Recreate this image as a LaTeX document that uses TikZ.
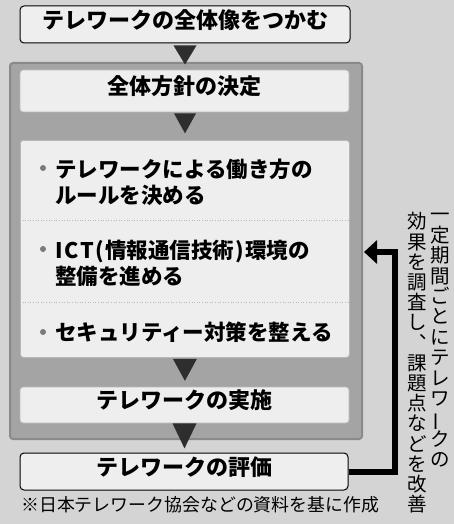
\documentclass[tikz,border=0pt]{standalone}
\usepackage{fontspec}
\usepackage{graphicx}
\newfontfamily\jp{Noto Sans CJK JP}
\usetikzlibrary{arrows.meta,calc}
\definecolor{bgc}{HTML}{D4D4D4}
\definecolor{boxc}{HTML}{EEEEEE}
\definecolor{panelc}{HTML}{A4A4A4}
\definecolor{paneledge}{HTML}{8A8A8A}
\definecolor{boxedge}{HTML}{B8B8B8}
\definecolor{tric}{HTML}{2E2E2E}
\definecolor{bulc}{HTML}{7A7A7A}
\begin{document}
\begin{tikzpicture}[x=1pt,y=-1pt,
  obox/.style={draw=black,line width=1pt,fill=boxc,rounded corners=4pt,inner sep=0pt},
  ibox/.style={draw=boxedge,line width=0.8pt,fill=boxc,rounded corners=3pt,inner sep=0pt},
  panelbox/.style={draw=paneledge,line width=2pt,fill=panelc,rounded corners=3pt,inner sep=0pt},
  ttl/.style={font=\jp\bfseries\fontsize{22}{26}\selectfont,text height=0.88em,text depth=0.12em},
  itm/.style={font=\jp\bfseries\fontsize{21.5}{26.5}\selectfont,align=left,inner sep=0pt,anchor=west},
  vch/.style={font=\jp\fontsize{19.5}{20}\selectfont,text height=0.88em,text depth=0.12em,inner sep=0pt},
  vchr/.style={vch,rotate=90},
  note/.style={font=\jp\fontsize{17.9}{20}\selectfont,text height=0.88em,text depth=0.12em,inner sep=0pt,anchor=west},
  sepline/.style={draw=boxedge,line width=0.6pt,dotted},
  fb/.style={draw=black,line width=6pt,line join=miter,-{Triangle[length=13pt,width=23pt]}}
]
\useasboundingbox (0,0) rectangle (454,524);
\fill[bgc] (0,0) rectangle (454,524);

% top box
\node[obox,ttl,minimum width=330pt,minimum height=37pt] (top) at (185,24.5) {テレワークの全体像をつかむ};

% gray panel
\node[panelbox,minimum width=352pt,minimum height=376pt,anchor=north west] (panel) at (9,62) {};

% inner boxes
\node[ibox,ttl,minimum width=329pt,minimum height=42pt] (policy) at (184.5,91) {全体方針の決定};
\node[ibox,minimum width=329pt,minimum height=217pt,anchor=north west] (blist) at (20,140) {};
\draw[sepline] (blist.west |- 0,220) -- (blist.east |- 0,220);
\draw[sepline] (blist.west |- 0,302) -- (blist.east |- 0,302);
\node[ibox,ttl,minimum width=329pt,minimum height=36pt] (impl) at (184.5,405) {テレワークの実施};

% evaluation box
\node[obox,ttl,minimum width=328pt,minimum height=37pt] (eval) at (184,471.5) {テレワークの評価};

% bullet items
\fill[bulc] (43,168) circle (3pt);
\fill[bulc] (43,249) circle (3pt);
\fill[bulc] (43,332) circle (3pt);
\node[itm] (i1) at (55,182.5) {テレワークによる働き方の\\ルールを決める};
\node[itm] (i2) at (55,263.5) {I\kern1.5pt C\kern1.5pt T\kern2pt(\kern1pt 情報通信技術\kern1pt)\kern1pt 環境の\\整備を進める};
\node[itm] (i3) at (55,332) {セキュリティー対策を整える};

% triangles
\fill[tric] ($(top.south)+(-11.5,2)$) -- ++(23,0) -- ++(-11.5,19) -- cycle;
\fill[tric] ($(policy.south)+(-10.5,1)$) -- ++(22,0) -- ++(-11,20) -- cycle;
\fill[tric] ($(blist.south)+(-12,1)$) -- ++(24,0) -- ++(-12,22) -- cycle;
\fill[tric] ($(impl.south)+(-12,0)$) -- ++(24,0) -- ++(-12,25) -- cycle;

% feedback arrow
\coordinate (fbc) at (395,252);
\coordinate (fbend) at (364,252);
\draw[fb] (eval.east) -| (fbc) -- (fbend);

% vertical text
\foreach \c/\o [count=\i from 0] in {一/vch,定/vch,期/vch,間/vch,ご/vch,と/vch,に/vch,テ/vch,レ/vch,ワ/vch,ー/vchr,ク/vch,の/vch}
  \node[\o] at ({440},{218+20.4*\i}) {\c};
\foreach \c/\o [count=\i from 0] in {効/vch,果/vch,を/vch,調/vch,査/vch,し/vch,︑/vch,課/vch,題/vch,点/vch,な/vch,ど/vch,を/vch,改/vch,善/vch}
  \node[\o] at ({417},{225+20.2*\i}) {\c};

% footnote
\node[note] (src) at (21,508) {※日本テレワーク協会などの資料を基に作成};
\end{tikzpicture}
\end{document}
